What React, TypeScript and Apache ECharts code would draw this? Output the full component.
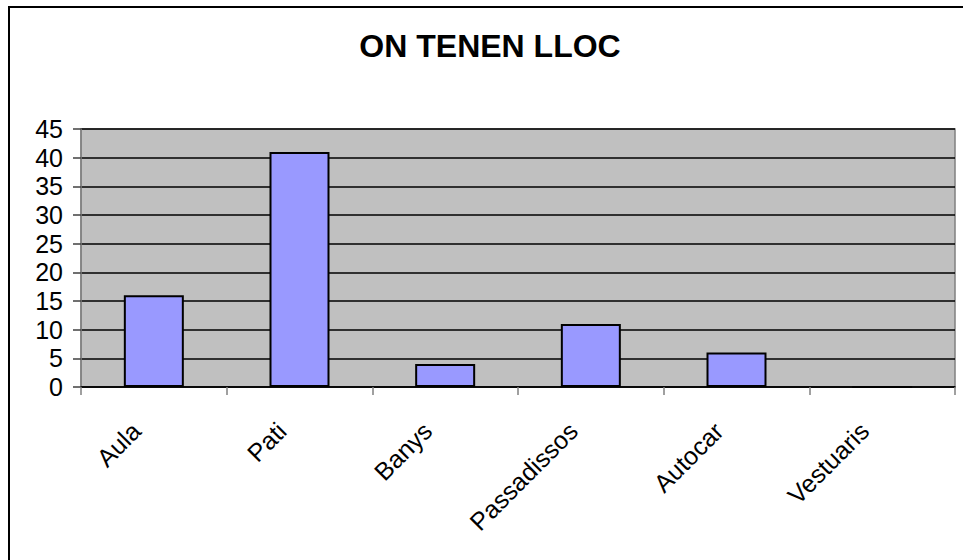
import React, { useEffect, useRef } from "react";
import * as echarts from "echarts";

const titleText = "ON TENEN LLOC";
const categories = ["Aula", "Pati", "Banys", "Passadissos", "Autocar", "Vestuaris"];
const values = [16, 41, 4, 11, 6, 0];
const yMin = 0;
const yMax = 45;
const yInterval = 5;

const FONT = "'Liberation Sans', Arial, Helvetica, sans-serif";

export default function App() {
  const ref = useRef<HTMLDivElement>(null);
  useEffect(() => {
    document.body.style.margin = "0";
    if (!ref.current) return;
    const chart = echarts.init(ref.current, undefined, { renderer: "svg" });
    chart.setOption({
      animation: false,
      backgroundColor: "#ffffff",
      grid: {
        left: 81,
        right: 8,
        top: 129,
        bottom: 173,
        show: true,
        backgroundColor: "#C0C0C0",
        borderColor: "#808080",
        borderWidth: 1.5,
        containLabel: false,
      },
      graphic: [
        {
          type: "rect",
          shape: { x: 9, y: 7, width: 1000, height: 700 },
          style: { fill: "none", stroke: "#000", lineWidth: 2 },
          silent: true,
          z: 10,
        },
        {
          type: "text",
          x: 490,
          y: 46,
          style: {
            text: titleText,
            fontFamily: FONT,
            fontSize: 32,
            fontWeight: "bold",
            fill: "#000",
            textAlign: "center",
            textVerticalAlign: "middle",
          },
        },
      ],
      xAxis: {
        type: "category",
        data: categories,
        boundaryGap: true,
        axisLine: { show: true, lineStyle: { color: "#000", width: 1.5 } },
        axisTick: { show: true, length: 8, inside: false, lineStyle: { color: "#808080", width: 1.5 } },
        axisLabel: {
          rotate: 45,
          interval: 0,
          margin: 22,
          padding: [0, 25, 0, 0],
          fontSize: 25,
          fontFamily: FONT,
          color: "#000",
        },
        splitLine: { show: false },
      },
      yAxis: {
        type: "value",
        min: yMin,
        max: yMax,
        interval: yInterval,
        axisLine: { show: true, lineStyle: { color: "#808080", width: 1.5 } },
        axisTick: { show: true, length: 8, lineStyle: { color: "#404040", width: 1.5 } },
        axisLabel: {
          margin: 18,
          fontSize: 25,
          fontFamily: FONT,
          color: "#000",
        },
        splitLine: { show: true, lineStyle: { color: "#000", width: 1.5 } },
      },
      series: [
        {
          type: "bar",
          data: values,
          barWidth: 60,
          itemStyle: { color: "#9999FF", borderColor: "#000", borderWidth: 2 },
        },
      ],
    });
    return () => chart.dispose();
  }, []);
  return <div ref={ref} style={{ width: 963, height: 560 }} />;
}
